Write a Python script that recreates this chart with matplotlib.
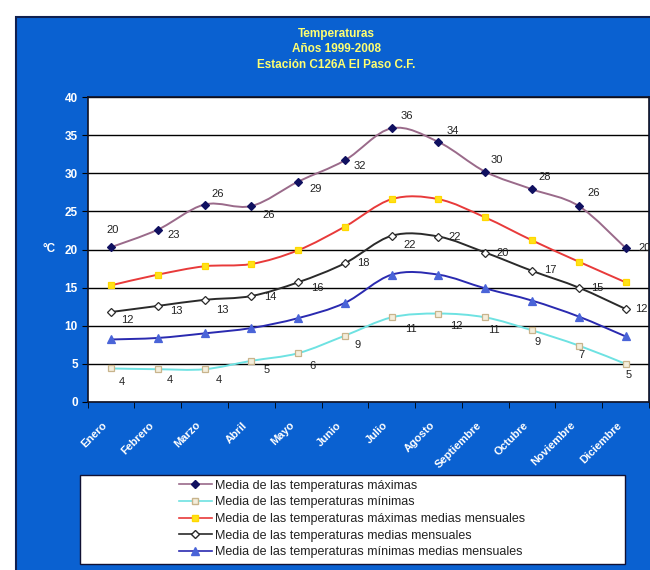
import numpy as np
import matplotlib
matplotlib.use("Agg")
import matplotlib.pyplot as plt
from matplotlib.path import Path
from matplotlib.patches import PathPatch, Rectangle
from matplotlib.lines import Line2D
from matplotlib.transforms import ScaledTranslation

# data (degrees C, 1999-2008)
meses = ["Enero", "Febrero", "Marzo", "Abril", "Mayo", "Junio", "Julio",
         "Agosto", "Septiembre", "Octubre", "Noviembre", "Diciembre"]
t_max = [20.3, 22.6, 25.9, 25.7, 28.9, 31.7, 35.9, 34.1, 30.2, 27.9, 25.7, 20.2]
t_min = [4.4, 4.3, 4.3, 5.4, 6.4, 8.7, 11.1, 11.6, 11.1, 9.4, 7.4, 5.0]
t_max_med = [15.3, 16.7, 17.8, 18.1, 19.9, 23.0, 26.6, 26.6, 24.2, 21.2, 18.4, 15.7]
t_med = [11.8, 12.6, 13.4, 13.9, 15.7, 18.2, 21.8, 21.7, 19.6, 17.2, 15.0, 12.2]
t_min_med = [8.2, 8.4, 9.0, 9.7, 11.0, 13.0, 16.7, 16.7, 14.9, 13.3, 11.2, 8.6]

nombres = ["Media de las temperaturas máximas",
           "Media de las temperaturas mínimas",
           "Media de las temperaturas máximas medias mensuales",
           "Media de las temperaturas medias mensuales",
           "Media de las temperaturas mínimas medias mensuales"]

# label offsets in pixels (dx, dy up) for the labelled series
off_max = [(2, 17), (16, -5), (13, 11), (17, -9), (17, -7), (15, -6),
           (15, 12), (14, 11), (11, 12), (13, 12), (15, 13), (19, 0)]
off_med = [(16, -8), (19, -5), (18, -10), (19, -1), (19, -6), (18, 0),
           (18, -9), (16, 0), (17, 0), (18, 1), (18, 0), (16, 0)]
off_min = [(11, -14), (12, -11), (14, -11), (15, -9), (14, -13), (13, -9),
           (19, -12), (18, -12), (9, -13), (6, -12), (3, -9), (3, -11)]

BLUE = "#0A61D1"
FONT = "Liberation Sans"
plt.rcParams["font.family"] = [FONT, "DejaVu Sans"]


def smooth_path(x, y):
    # Excel-like smoothed line: cubic bezier through every point
    p = np.column_stack([x, y]).astype(float)
    n = len(p)
    verts = [p[0]]
    codes = [Path.MOVETO]
    for i in range(n - 1):
        p0 = p[max(i - 1, 0)]
        p3 = p[min(i + 2, n - 1)]
        c1 = p[i] + (p[i + 1] - p0) / 6.0
        c2 = p[i + 1] - (p3 - p[i]) / 6.0
        verts += [c1, c2, p[i + 1]]
        codes += [Path.CURVE4] * 3
    return Path(verts, codes)


fig = plt.figure(figsize=(6.5, 5.7), dpi=100, facecolor="white")
fig.patches.append(Rectangle((16 / 650, -0.05), 1.1, 1 - 17 / 570 + 0.05,
                             transform=fig.transFigure, facecolor=BLUE,
                             edgecolor="#102050", lw=1.5, zorder=-2))
fig.patches.append(Rectangle((80 / 650, 1 - 564 / 570), 545 / 650, 89 / 570,
                             transform=fig.transFigure, facecolor="white",
                             edgecolor="#111133", lw=1.0, zorder=-1))

ax = fig.add_axes([87.6 / 650, 168 / 570, 561.4 / 650, 305 / 570])
ax.set_facecolor("white")
ax.set_zorder(1)
x = np.arange(len(meses))

series = [
    (t_max, dict(color="#9A6A8A", marker="D", mfc="#101060", mec="#101060", ms=4.5)),
    (t_min, dict(color="#6EE2E2", marker="s", mfc="#F4EEDC", mec="#C8B48C", ms=5)),
    (t_max_med, dict(color="#E83A3A", marker="s", mfc="#FFE21A", mec="#FFD800", ms=5)),
    (t_med, dict(color="#2A2A2A", marker="D", mfc="white", mec="#2A2A2A", ms=4.5)),
    (t_min_med, dict(color="#2A2AB0", marker="^", mfc="#4A64D8", mec="#4A64D8", ms=6)),
]

handles = []
for vals, st in series:
    ax.add_patch(PathPatch(smooth_path(x, vals), facecolor="none",
                           edgecolor=st["color"], lw=1.4, zorder=3))
    ax.plot(x, vals, linestyle="none", marker=st["marker"], mfc=st["mfc"],
            mec=st["mec"], ms=st["ms"], mew=0.9, zorder=4)
    handles.append(Line2D([], [], color=st["color"], lw=1.2, marker=st["marker"],
                          mfc=st["mfc"], mec=st["mec"], ms=st["ms"] - 0.5))

for vals, offs in [(t_max, off_max), (t_med, off_med), (t_min, off_min)]:
    for i, v in enumerate(vals):
        ax.annotate(f"{v:.0f}", (x[i], v), xytext=offs[i], textcoords="offset pixels",
                    ha="center", va="center", fontsize=8, color="#222222",
                    annotation_clip=False, zorder=5)

ax.set_xlim(-0.5, len(meses) - 0.5)
ax.set_ylim(0, 40)
ax.set_yticks(np.arange(0, 41, 5))
ax.yaxis.grid(True, color="black", lw=1.0)
ax.set_axisbelow(True)

# month names: rotated, ending a little left of and below each category centre
ax.set_xticks([])
ax.set_xticks(np.arange(-0.5, len(meses), 1), minor=True)
ax.tick_params(axis="x", which="minor", length=4, color="black", direction="out")
lab_tr = ax.get_xaxis_transform() + ScaledTranslation(-0.09, -0.18, fig.dpi_scale_trans)
for i, m in enumerate(meses):
    ax.text(x[i], 0, m, transform=lab_tr, rotation=45, ha="right", va="top",
            rotation_mode="anchor", fontsize=8, fontweight="bold", color="white",
            clip_on=False)

ax.tick_params(axis="y", length=4, color="black", labelsize=8.5, labelcolor="white", pad=3)
for lab in ax.get_yticklabels():
    lab.set_fontweight("bold")
for sp in ax.spines.values():
    sp.set_color("#111122")
    sp.set_linewidth(1.2)

ax.set_ylabel("°C", rotation=0, fontsize=8.5, fontweight="bold", color="white",
              ha="center", va="center")
ax.yaxis.set_label_coords(-0.068, 0.5)

fig.text(336 / 650, 1 - 34 / 570, "Temperaturas", ha="center", va="center",
         fontsize=8.5, fontweight="bold", color="#FFFF70")
fig.text(336 / 650, 1 - 49.5 / 570, "Años 1999-2008", ha="center", va="center",
         fontsize=8.5, fontweight="bold", color="#FFFF70")
fig.text(336 / 650, 1 - 65 / 570, "Estación C126A El Paso C.F.", ha="center", va="center",
         fontsize=8.5, fontweight="bold", color="#FFFF70")

leg = fig.legend(handles, nombres, loc="center", bbox_to_anchor=(352 / 650, 1 - 519 / 570),
                 frameon=False, fontsize=9, handlelength=2.6, handletextpad=0.25,
                 labelspacing=0.38, borderpad=0)
for t in leg.get_texts():
    t.set_color("#222222")

fig.savefig("out.png", dpi=100, facecolor="white")
